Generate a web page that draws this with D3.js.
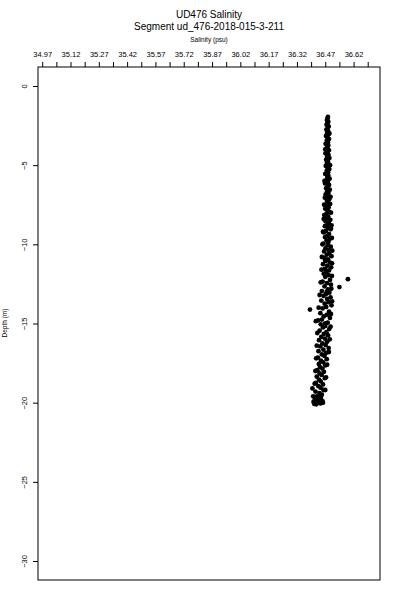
<!DOCTYPE html>
<html>
<head>
<meta charset="utf-8">
<script src="https://cdn.jsdelivr.net/npm/d3@7"></script>
<style>
  body { margin: 0; background: #fff; }
  text { font-family: "Liberation Sans", Arial, sans-serif; fill: #000; }
</style>
</head>
<body>
<div id="chart"></div>
<script>
// tick positions along the salinity axis (labels drop every other one)
const xTicks = [34.97, 35.045, 35.12, 35.195, 35.27, 35.345, 35.42, 35.495, 35.57, 35.645,
                35.72, 35.795, 35.87, 35.945, 36.02, 36.095, 36.17, 36.245, 36.32, 36.395,
                36.47, 36.545, 36.62, 36.695];
const xLabels = ["34.97", "35.12", "35.27", "35.42", "35.57", "35.72",
                 "35.87", "36.02", "36.17", "36.32", "36.47", "36.62"];
const yTicks = [0, -5, -10, -15, -20, -25, -30];

// depth (m) and salinity (psu) of each sample
const depth = [
  -1.95, -2.05, -2.15, -2.25, -2.35, -2.45, -2.55, -2.65, -2.75, -2.85,
  -2.95, -3.05, -3.15, -3.25, -3.35, -3.45, -3.55, -3.65, -3.75, -3.85,
  -3.95, -4.05, -4.15, -4.25, -4.35, -4.45, -4.55, -4.65, -4.75, -4.85,
  -4.95, -5.05, -5.15, -5.25, -5.35, -5.45, -5.55, -5.65, -5.75, -5.85,
  -5.95, -6.05, -6.15, -6.25, -6.35, -6.45, -6.55, -6.65, -6.75, -6.85,
  -6.95, -7.05, -7.15, -7.25, -7.35, -7.45, -7.55, -7.65, -7.75, -7.85,
  -7.95, -8.05, -8.15, -8.25, -8.35, -8.45, -8.55, -8.65, -8.75, -8.85,
  -8.95, -9.05, -9.15, -9.25, -9.35, -9.45, -9.55, -9.65, -9.75, -9.85,
  -9.95, -10.05, -10.15, -10.25, -10.35, -10.45, -10.55, -10.65, -10.75, -10.85,
  -10.95, -11.05, -11.15, -11.25, -11.35, -11.45, -11.55, -11.65, -11.75, -11.85,
  -11.95, -12.05, -12.2, -12.25, -12.35, -12.45, -12.55, -12.65, -12.7, -12.85,
  -12.95, -13.05, -13.15, -13.25, -13.35, -13.45, -13.55, -13.65, -13.75, -13.85,
  -13.95, -14.05, -14.12, -14.25, -14.35, -14.45, -14.55, -14.65, -14.75, -14.85,
  -14.95, -15.05, -15.15, -15.25, -15.35, -15.45, -15.55, -15.65, -15.75, -15.85,
  -15.95, -16.05, -16.15, -16.25, -16.35, -16.45, -16.55, -16.65, -16.75, -16.85,
  -16.95, -17.05, -17.15, -17.25, -17.35, -17.45, -17.55, -17.65, -17.75, -17.85,
  -17.95, -18.05, -18.15, -18.25, -18.35, -18.45, -18.55, -18.65, -18.75, -18.85,
  -18.95, -19.05, -19.1, -19.2, -19.3, -19.4, -19.5, -19.6, -19.7, -19.8,
  -19.85, -19.9, -19.95, -20.0, -20.05, -20.08, -20.1, -20.0, -19.75, -19.55,
  -8.0, -8.4, -8.8, -9.2, -9.6, -10.0, -10.4, -10.8, -11.2, -11.6,
  -12.0, -12.4, -12.8, -13.2, -13.6, -14.0, -14.4, -14.8, -15.2, -15.6,
  -16.0, -16.4, -16.8, -17.2, -17.6, -18.0, -18.4, -18.8, -19.2, -19.6,
  -3.0, -4.0, -5.0, -6.0, -7.0, -7.5, -9.0, -11.0, -13.0, -15.0
];
const salinity = [
  36.484, 36.482, 36.479, 36.486, 36.481, 36.477, 36.488, 36.483, 36.476, 36.485,
  36.480, 36.487, 36.474, 36.482, 36.490, 36.478, 36.484, 36.472, 36.486, 36.481,
  36.476, 36.489, 36.483, 36.471, 36.487, 36.480, 36.492, 36.475, 36.484, 36.479,
  36.488, 36.473, 36.482, 36.491, 36.478, 36.485, 36.470, 36.486, 36.481, 36.493,
  36.477, 36.484, 36.469, 36.490, 36.482, 36.475, 36.494, 36.480, 36.487, 36.472,
  36.486, 36.468, 36.491, 36.479, 36.484, 36.496, 36.474, 36.488, 36.470, 36.483,
  36.492, 36.477, 36.465, 36.486, 36.480, 36.497, 36.472, 36.489, 36.483, 36.468,
  36.485, 36.498, 36.474, 36.462, 36.490, 36.481, 36.469, 36.494, 36.477, 36.487,
  36.460, 36.483, 36.499, 36.471, 36.488, 36.464, 36.492, 36.478, 36.503, 36.466,
  36.485, 36.473, 36.496, 36.458, 36.481, 36.501, 36.468, 36.490, 36.476, 36.462,
  36.487, 36.470, 36.590, 36.495, 36.456, 36.479, 36.500, 36.466, 36.545, 36.484,
  36.452, 36.492, 36.473, 36.461, 36.498, 36.480, 36.449, 36.487, 36.467, 36.503,
  36.475, 36.456, 36.389, 36.490, 36.444, 36.478, 36.462, 36.495, 36.452, 36.420,
  36.483, 36.446, 36.470, 36.458, 36.491, 36.440, 36.476, 36.463, 36.485, 36.449,
  36.468, 36.437, 36.480, 36.455, 36.472, 36.444, 36.488, 36.460, 36.434, 36.475,
  36.452, 36.466, 36.431, 36.478, 36.447, 36.459, 36.436, 36.470, 36.442, 36.455,
  36.428, 36.463, 36.440, 36.451, 36.425, 36.468, 36.437, 36.446, 36.420, 36.458,
  36.433, 36.445, 36.402, 36.460, 36.418, 36.439, 36.452, 36.426, 36.447, 36.415,
  36.436, 36.455, 36.408, 36.428, 36.445, 36.412, 36.422, 36.458, 36.430, 36.441,
  36.500, 36.462, 36.503, 36.458, 36.505, 36.455, 36.507, 36.452, 36.506, 36.450,
  36.505, 36.446, 36.502, 36.440, 36.506, 36.435, 36.500, 36.432, 36.498, 36.428,
  36.494, 36.425, 36.489, 36.422, 36.480, 36.418, 36.474, 36.414, 36.470, 36.406,
  36.492, 36.470, 36.495, 36.466, 36.498, 36.464, 36.500, 36.470, 36.478, 36.470
];

const width = 400, height = 600;
const box = {left: 38, right: 380, top: 67, bottom: 580};

const svg = d3.select("#chart").append("svg")
    .attr("width", width)
    .attr("height", height);

svg.append("rect").attr("width", width).attr("height", height).attr("fill", "#fff");

const x = d3.scaleLinear()
    .domain([34.9477, 36.7601])
    .range([box.left, box.right]);

const y = d3.scaleLinear()
    .domain([1.2, -31.2])
    .range([box.top, box.bottom]);

// titles
svg.append("text").attr("x", 209).attr("y", 18)
    .attr("text-anchor", "middle").style("font-size", "10px")
    .text("UD476 Salinity");
svg.append("text").attr("x", 209).attr("y", 30)
    .attr("text-anchor", "middle").style("font-size", "10px")
    .text("Segment ud_476-2018-015-3-211");
svg.append("text").attr("x", 209).attr("y", 42)
    .attr("text-anchor", "middle").style("font-size", "6.5px")
    .text("Salinity (psu)");

// top axis
const xAxis = d3.axisTop(x)
    .tickValues(xTicks)
    .tickSize(5)
    .tickFormat(function(d, i) { return i % 2 == 0 ? xLabels[i / 2] : ""; });

const gx = svg.append("g")
    .attr("transform", "translate(0," + box.top + ")")
    .call(xAxis);
gx.select(".domain").remove();
gx.selectAll(".tick line").attr("stroke", "#000");
gx.selectAll(".tick text")
    .attr("y", -10)
    .attr("fill", "#000")
    .style("font-size", "7.5px")
    .style("font-family", "Liberation Sans, Arial, sans-serif");

// left axis
const yAxis = d3.axisLeft(y)
    .tickValues(yTicks)
    .tickSize(5)
    .tickFormat(d3.format("d"));

const gy = svg.append("g")
    .attr("transform", "translate(" + box.left + ",0)")
    .call(yAxis);
gy.select(".domain").remove();
gy.selectAll(".tick line").attr("stroke", "#000");
gy.selectAll(".tick text")
    .attr("x", null).attr("dy", null)
    .attr("fill", "#000")
    .attr("text-anchor", "middle")
    .attr("transform", "translate(-11,0) rotate(-90)")
    .style("font-size", "7.5px")
    .style("font-family", "Liberation Sans, Arial, sans-serif");

svg.append("text")
    .attr("transform", "translate(7," + 323 + ") rotate(-90)")
    .attr("text-anchor", "middle")
    .style("font-size", "6.5px")
    .text("Depth (m)");

// plot frame
svg.append("rect")
    .attr("x", box.left).attr("y", box.top)
    .attr("width", box.right - box.left)
    .attr("height", box.bottom - box.top)
    .attr("fill", "none")
    .attr("stroke", "#000")
    .attr("stroke-width", 1);

// samples
svg.append("g").selectAll("circle")
    .data(d3.zip(depth, salinity))
    .enter()
    .append("circle")
    .attr("cx", function(d) { return x(d[1]); })
    .attr("cy", function(d) { return y(d[0]); })
    .attr("r", 2.4)
    .attr("fill", "#000");
</script>
</body>
</html>
